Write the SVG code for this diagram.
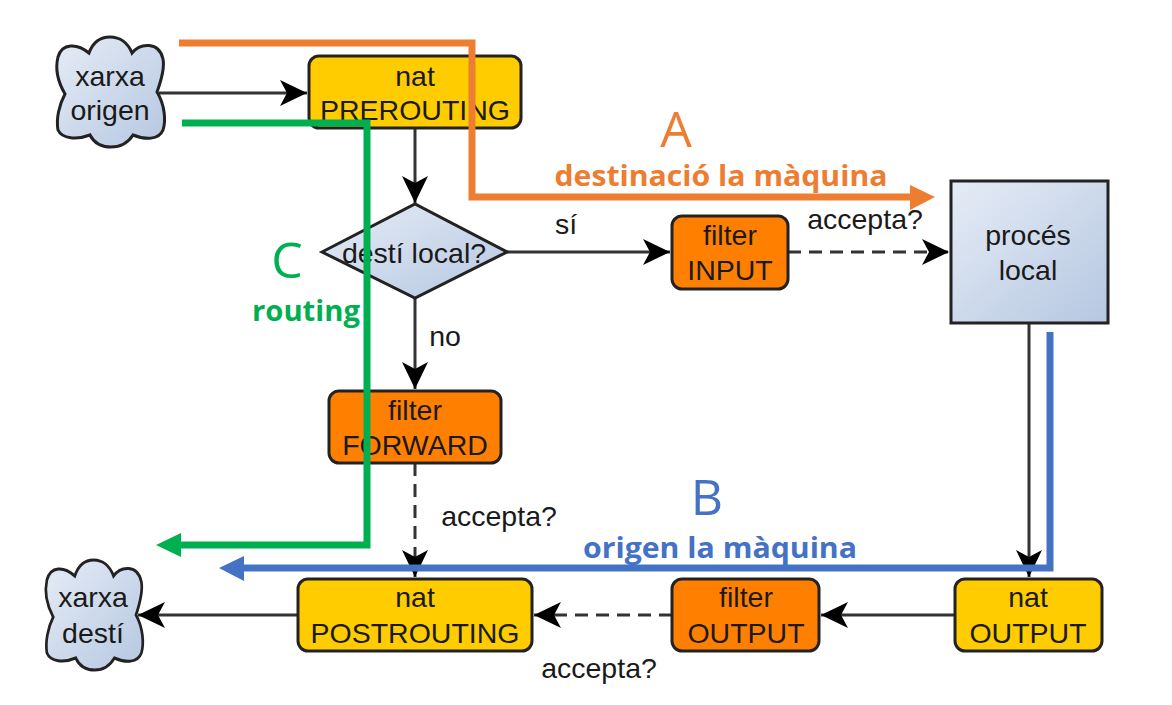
<svg xmlns="http://www.w3.org/2000/svg" xmlns:xlink="http://www.w3.org/1999/xlink" width="1172" height="705" viewBox="0 0 1172 705">
<style>
text{font-family:"Liberation Sans",Arial,sans-serif;font-size:28.5px;fill:#1a1a1a;text-anchor:middle}
.shape{stroke:#222;stroke-width:3}
.nat{fill:#ffcc00}
.filter{fill:#ff8000}
.blue{fill:url(#g)}
.c{fill:none;stroke:#333;stroke-width:3;marker-end:url(#a)}
.d{stroke-dasharray:13 8}
.h{fill:none;stroke-width:7}
.t{font-family:"Open Sans",sans-serif;font-weight:700;font-size:28px}
.big{font-family:"Open Sans",sans-serif;font-size:50px}
</style>
<defs>
<linearGradient id="g" x1="0" y1="0" x2="1" y2="1"><stop offset="0" stop-color="#e6ecf6"/><stop offset="1" stop-color="#b5c7e1"/></linearGradient>
<marker id="a" markerUnits="userSpaceOnUse" markerWidth="30" markerHeight="28" refX="27" refY="13" orient="auto"><path d="M0 0 27 13 0 26 7 13Z" fill="#000"/></marker>
<path id="cloud" class="shape blue" d="M32 16C36 5 44 0 53 0C63 0 71 6 75 16C83 6 102 4 106 22C108 32 104 44 100 55C108 68 109 84 106 93C102 103 88 103 76 98C71 106 63 110 54 110C45 110 37 106 33 98C20 103 5 102 1 93C-1 82 2 68 8 57C1 45-2 32 1 20C5 6 20 6 32 16Z"/>
</defs>
<rect width="1172" height="705" fill="#fff"/>
<g id="connectors">
<path class="c" d="M159 93H307"/>
<path class="c" d="M415 128V203"/>
<path class="c" d="M507 252H670"/>
<path class="c d" d="M788 252H949"/>
<path class="c" d="M415 298V389"/>
<path class="c d" d="M415 463V577"/>
<path class="c" d="M1029 323V577"/>
<path class="c" d="M955 615H821"/>
<path class="c d" d="M672 615H534"/>
<path class="c" d="M298 615H138"/>
</g>
<g id="xarxa-origen"><use href="#cloud" transform="translate(57 37)"/><text x="110" y="86">xarxa</text><text x="110" y="120">origen</text></g>
<g id="nat-prerouting"><rect class="shape nat" x="309" y="56" width="212" height="72" rx="10"/><text x="415" y="86">nat</text><text x="415" y="120">PREROUTING</text></g>
<g id="desti-local"><path class="shape blue" d="M322 252 415 204 507 252 415 298Z"/><text x="414" y="263">destí local?</text></g>
<g id="filter-input"><rect class="shape filter" x="672" y="216" width="116" height="73" rx="10"/><text x="730" y="245">filter</text><text x="730" y="280">INPUT</text></g>
<g id="proces-local"><rect class="shape blue" x="951" y="181" width="157" height="142"/><text x="1028" y="245">procés</text><text x="1028" y="280">local</text></g>
<g id="filter-forward"><rect class="shape filter" x="329" y="391" width="172" height="72" rx="10"/><text x="415" y="420">filter</text><text x="415" y="455">FORWARD</text></g>
<g id="nat-postrouting"><rect class="shape nat" x="298" y="579" width="234" height="72" rx="10"/><text x="415" y="607">nat</text><text x="415" y="643">POSTROUTING</text></g>
<g id="filter-output"><rect class="shape filter" x="672" y="579" width="147" height="72" rx="10"/><text x="746" y="607">filter</text><text x="746" y="643">OUTPUT</text></g>
<g id="nat-output"><rect class="shape nat" x="955" y="579" width="147" height="72" rx="10"/><text x="1028" y="607">nat</text><text x="1028" y="643">OUTPUT</text></g>
<g id="xarxa-desti"><use href="#cloud" transform="translate(46 560) scale(.9 1)"/><text x="93" y="607">xarxa</text><text x="93" y="643">destí</text></g>
<g id="edge-labels">
<text x="566" y="234">sí</text>
<text x="865" y="229">accepta?</text>
<text x="445" y="346">no</text>
<text x="499" y="526">accepta?</text>
<text x="599" y="678">accepta?</text>
</g>
<g id="paths">
<path class="h" stroke="#ed7d31" d="M179 43H472V197H912"/><path fill="#ed7d31" d="M910 185 935 197 910 210Z"/>
<path class="h" stroke="#00b050" d="M182 123H367V545H180"/><path fill="#00b050" d="M181 533 156 545 181 557Z"/>
<path class="h" stroke="#4472c4" d="M1050 332V568H243"/><path fill="#4472c4" d="M244 556 219 568 244 581Z"/>
<text class="big" x="676" y="147" style="fill:#ed7d31">A</text>
<text class="t" x="721" y="186" style="fill:#ed7d31" textLength="333" lengthAdjust="spacingAndGlyphs">destinació la màquina</text>
<text class="big" x="707" y="515" style="fill:#4472c4">B</text>
<text class="t" x="720" y="558" style="fill:#4472c4" textLength="274" lengthAdjust="spacingAndGlyphs">origen la màquina</text>
<text class="big" x="287" y="278" style="fill:#00b050">C</text>
<text class="t" x="306" y="321" style="fill:#00b050" textLength="108" lengthAdjust="spacingAndGlyphs">routing</text>
</g>
</svg>
